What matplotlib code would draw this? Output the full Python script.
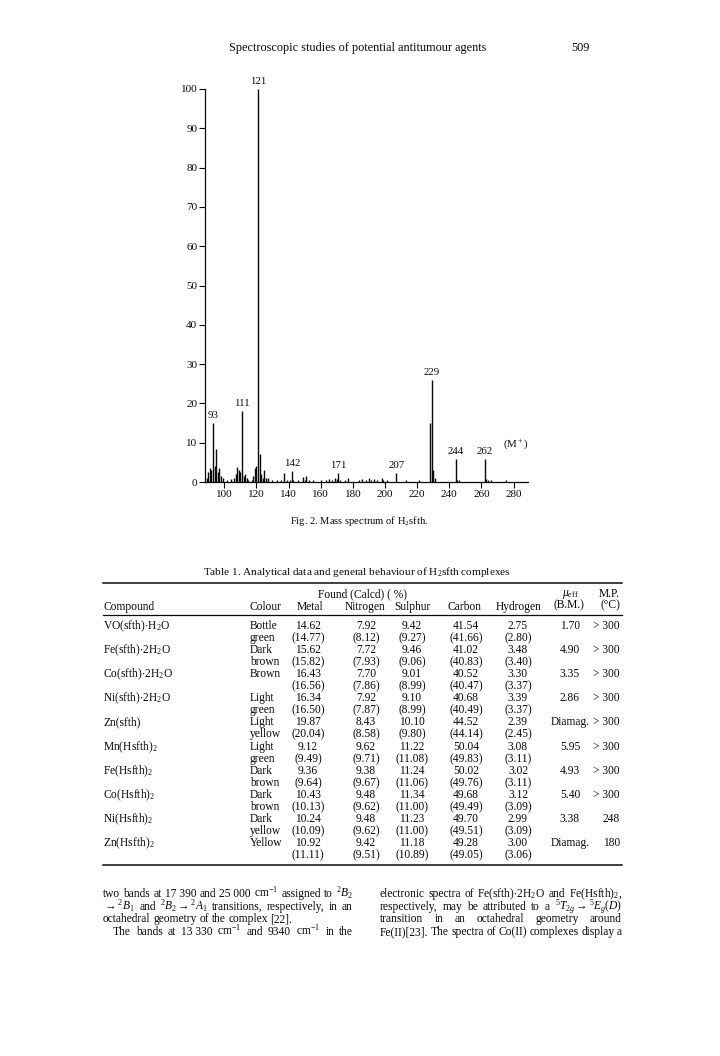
import matplotlib.pyplot as plt
from matplotlib.lines import Line2D

plt.rcParams['font.family'] = ['Liberation Serif', 'DejaVu Serif']
plt.rcParams['mathtext.fontset'] = 'custom'
plt.rcParams['mathtext.rm'] = 'Liberation Serif'
plt.rcParams['mathtext.it'] = 'Liberation Serif:italic'
plt.rcParams['mathtext.bf'] = 'Liberation Serif:bold'
INK = '#0a0a0a'

# mass spectrum of H2sfth (m/z, relative intensity %)
mz = [89, 90, 91, 92, 93, 94, 95, 96, 97, 98, 99, 102, 104, 106,
      107, 108, 109, 110, 111, 112, 113, 114, 115, 117, 118, 119, 120,
      121, 122, 123, 124, 125, 126, 127, 130, 133, 135, 137, 139, 141,
      142, 143, 146, 149, 150, 151, 153, 155, 160, 163, 165, 167, 169,
      170, 171, 172, 175, 177, 184, 186, 188, 190, 191, 193, 195, 198,
      199, 201, 207, 213, 221, 228, 229, 230, 231, 244, 245, 246, 262,
      263, 264, 266, 275]
intensity = [1.0, 2.5, 3.5, 3.0, 15.0, 4.0, 8.5, 2.5, 3.5, 1.5, 1.0, 0.5, 0.8, 1.0,
             2.0, 3.8, 3.0, 2.5, 18.0, 1.5, 2.0, 1.0, 0.5, 0.5, 1.5, 3.5, 4.0,
             100.0, 7.0, 2.0, 1.0, 3.0, 1.0, 1.0, 0.4, 0.4, 0.6, 2.3, 0.5, 0.6,
             2.8, 0.6, 0.5, 1.3, 0.6, 1.5, 0.4, 0.4, 0.5, 0.5, 0.8, 0.6, 0.9,
             0.8, 2.3, 0.5, 0.5, 1.0, 0.4, 0.8, 0.6, 0.9, 0.5, 0.8, 0.5, 1.0,
             0.6, 0.5, 2.3, 0.4, 0.4, 15.0, 26.0, 3.0, 1.0, 5.8, 0.6, 0.4, 5.8,
             0.8, 0.5, 0.4, 0.4]
labelled = [93, 111, 121, 142, 171, 207, 229, 244, 262]

# Table 1
compounds = [r'VO(sfth)$\cdot$H$_2$O', r'Fe(sfth)$\cdot$2H$_2$O', r'Co(sfth)$\cdot$2H$_2$O',
             r'Ni(sfth)$\cdot$2H$_2$O', 'Zn(sfth)', r'Mn(Hsfth)$_2$', r'Fe(Hsfth)$_2$',
             r'Co(Hsfth)$_2$', r'Ni(Hsfth)$_2$', r'Zn(Hsfth)$_2$']
colour1 = ['Bottle', 'Dark', 'Brown', 'Light', 'Light', 'Light', 'Dark', 'Dark', 'Dark', 'Yellow']
colour2 = ['green', 'brown', '', 'green', 'yellow', 'green', 'brown', 'brown', 'yellow', '']
metal = ['14.62', '15.62', '16.43', '16.34', '19.87', '9.12', '9.36', '10.43', '10.24', '10.92']
metal_c = ['14.77', '15.82', '16.56', '16.50', '20.04', '9.49', '9.64', '10.13', '10.09', '11.11']
nitrogen = ['7.92', '7.72', '7.70', '7.92', '8.43', '9.62', '9.38', '9.48', '9.48', '9.42']
nitrogen_c = ['8.12', '7.93', '7.86', '7.87', '8.58', '9.71', '9.67', '9.62', '9.62', '9.51']
sulphur = ['9.42', '9.46', '9.01', '9.10', '10.10', '11.22', '11.24', '11.34', '11.23', '11.18']
sulphur_c = ['9.27', '9.06', '8.99', '8.99', '9.80', '11.08', '11.06', '11.00', '11.00', '10.89']
carbon = ['41.54', '41.02', '40.52', '40.68', '44.52', '50.04', '50.02', '49.68', '49.70', '49.28']
carbon_c = ['41.66', '40.83', '40.47', '40.49', '44.14', '49.83', '49.76', '49.49', '49.51', '49.05']
hydrogen = ['2.75', '3.48', '3.30', '3.39', '2.39', '3.08', '3.02', '3.12', '2.99', '3.00']
hydrogen_c = ['2.80', '3.40', '3.37', '3.37', '2.45', '3.11', '3.11', '3.09', '3.09', '3.06']
mu_eff = ['1.70', '4.90', '3.35', '2.86', 'Diamag.', '5.95', '4.93', '5.40', '3.38', 'Diamag.']
mp = ['>300'] * 8 + ['248', '180']

W, H = 720, 1056
fig = plt.figure(figsize=(7.2, 10.56), dpi=100)


def fx(x):
    return x / W


def fy(y):
    return 1 - round(y) / H


def txt(x, y, s, fs=8.3, ha='left', **kw):
    # y is the baseline in pixels from the top
    return fig.text(fx(x), fy(y), s, fontsize=fs, ha=ha, va='baseline', color=INK, **kw)


def rule(y, x0=103, x1=622, lw=0.9):
    fig.add_artist(Line2D([fx(x0), fx(x1)], [fy(y), fy(y)], color=INK, lw=lw))


# page header
txt(358, 51, 'Spectroscopic studies of potential antitumour agents', fs=8.8, ha='center')
txt(580, 51, '509', fs=8.8, ha='center')

# the spectrum
ax = fig.add_axes([fx(205), fy(482), fx(528) - fx(205), fy(89) - fy(482)])
ax.vlines(mz, 0, intensity, color=INK, lw=1.0)
for m in labelled:
    ax.annotate(str(m), (m, intensity[mz.index(m)]), xytext=(0, 2),
                textcoords='offset points', ha='center', va='bottom',
                fontsize=7.8, color=INK)
ax.annotate('(M$^+$)', (262, intensity[mz.index(262)]), xytext=(13, 6),
            textcoords='offset points', ha='left', va='bottom', fontsize=7.8, color=INK)
ax.set_xlim(88, 289)
ax.set_ylim(0, 100)
ax.set_xticks(range(100, 281, 20))
ax.set_yticks(range(0, 101, 10))
ax.tick_params(direction='out', length=4, width=0.8, labelsize=8, pad=1.5, colors=INK)
for s in ['top', 'right']:
    ax.spines[s].set_visible(False)
for s in ['left', 'bottom']:
    ax.spines[s].set_linewidth(0.9)
    ax.spines[s].set_color(INK)

txt(359, 524, 'Fig. 2. Mass spectrum of H$_2$sfth.', fs=7.6, ha='center')

# table
txt(357, 575, 'Table 1. Analytical data and general behaviour of H$_2$sfth complexes', fs=8.1, ha='center')
rule(583, lw=1.1)
txt(362, 597, 'Found (Calcd) ( %)', ha='center')
txt(570, 596, r'$\mu_{\rm eff}$', ha='center')
txt(609, 597, 'M.P.', ha='center')
txt(103, 610, 'Compound')
txt(250, 610, 'Colour')
heads = ['Metal', 'Nitrogen', 'Sulphur', 'Carbon', 'Hydrogen']
head_x = [310, 365, 412, 465, 519]
for h, x in zip(heads, head_x):
    txt(x, 610, h, ha='center')
txt(569, 608, '(B.M.)', ha='center')
txt(610, 608, '(°C)', ha='center')
rule(615)

val_x = [308, 366, 412, 466, 518]
found = [metal, nitrogen, sulphur, carbon, hydrogen]
calcd = [metal_c, nitrogen_c, sulphur_c, carbon_c, hydrogen_c]
for i in range(len(compounds)):
    y1 = 629 + 24.1 * i
    y2 = y1 + 12
    txt(103, y1, compounds[i])
    txt(250, y1, colour1[i])
    txt(250, y2, colour2[i])
    for col, x in enumerate(val_x):
        txt(x, y1, found[col][i], ha='center')
        txt(x, y2, '(' + calcd[col][i] + ')', ha='center')
    txt(570, y1, mu_eff[i], ha='center')
    txt(620, y1, mp[i].replace('>', '> '), ha='right')
rule(865, lw=1.1)

# body text, two justified columns
renderer = fig.canvas.get_renderer()


def justify(line, x0, x1, yb, last=False, fs=8.3):
    words = [txt(0, yb, w.replace('~', ' '), fs=fs) for w in line.split(' ')]
    ws = [w.get_window_extent(renderer).width for w in words]
    gap = 2.7 if last else (x1 - x0 - sum(ws)) / (len(ws) - 1)
    x = x0
    for w, wd in zip(words, ws):
        w.set_x(fx(x))
        x += wd + gap


left_col = [
    r'two bands at 17~390 and 25~000 cm$^{-1}$ assigned to ${}^2B_2$',
    r'$\rightarrow{}^2B_1$ and ${}^2B_2\rightarrow{}^2A_1$ transitions, respectively, in an',
    r'octahedral geometry of the complex [22].',
    r'The bands at 13~330 cm$^{-1}$ and 9340 cm$^{-1}$ in the',
]
right_col = [
    r'electronic spectra of Fe(sfth)$\cdot$2H$_2$O and Fe(Hsfth)$_2$,',
    r'respectively, may be attributed to a ${}^5T_{2g}\rightarrow{}^5E_g(D)$',
    r'transition in an octahedral geometry around',
    r'Fe(II)[23]. The spectra of Co(II) complexes display a',
]
base = [897, 910, 922, 935]
for k, line in enumerate(left_col):
    x0 = 113 if k == 3 else 103
    justify(line, x0, 353, base[k], last=(k == 2))
for k, line in enumerate(right_col):
    justify(line, 380, 622, base[k])

fig.savefig('out.png', dpi=100)
